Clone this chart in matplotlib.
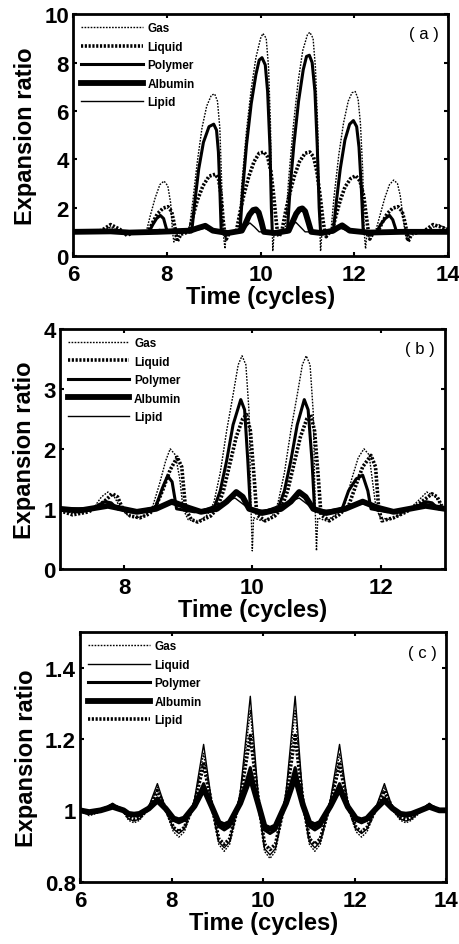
import matplotlib
matplotlib.use("Agg")
import matplotlib.pyplot as plt

plt.rcParams["font.family"] = ["Liberation Sans", "DejaVu Sans"]

# ---------------- panel (a) ----------------
a_gas_t = [6.0, 6.6, 6.8, 7.0, 7.1, 7.3,
           7.56, 7.65, 7.75, 7.85, 7.94, 8.02, 8.08, 8.12, 8.15, 8.2,
           8.47, 8.55, 8.65, 8.75, 8.85, 8.95, 9.02, 9.08, 9.13, 9.17, 9.2, 9.24, 9.27,
           9.53, 9.6, 9.7, 9.8, 9.9, 10.0, 10.05, 10.12, 10.17, 10.21, 10.24, 10.26, 10.29,
           10.52, 10.6, 10.7, 10.8, 10.9, 11.0, 11.05, 11.12, 11.17, 11.22, 11.25, 11.28, 11.31,
           11.5, 11.57, 11.67, 11.77, 11.87, 11.95, 12.02, 12.08, 12.13, 12.18, 12.21, 12.24, 12.27,
           12.45, 12.55, 12.65, 12.75, 12.84, 12.92, 12.98, 13.04, 13.08, 13.11, 13.16,
           13.5, 13.7, 13.8, 14.0]
a_gas_y = [1.0, 1.0, 1.2, 1.0, 0.9, 1.0,
           1.0, 1.7, 2.4, 2.95, 3.1, 2.9, 2.2, 1.0, 0.58, 0.9,
           1.0, 2.2, 3.9, 5.3, 6.2, 6.65, 6.7, 6.4, 5.3, 3.0, 1.0, 0.3, 1.0,
           1.0, 3.0, 5.2, 6.9, 8.2, 9.0, 9.2, 9.0, 7.8, 5.5, 2.0, 0.2, 1.0,
           1.0, 3.2, 5.4, 7.2, 8.5, 9.15, 9.25, 9.0, 7.8, 5.3, 2.0, 0.2, 1.0,
           1.0, 2.5, 4.2, 5.5, 6.4, 6.75, 6.8, 6.5, 5.5, 3.5, 1.0, 0.3, 1.0,
           1.0, 1.7, 2.4, 2.95, 3.14, 3.0, 2.5, 1.6, 1.0, 0.7, 0.95,
           1.0, 1.2, 1.3, 1.1]

a_liq_t = [6.0, 6.6, 6.8, 7.0, 7.15, 7.3,
           7.6, 7.7, 7.8, 7.92, 8.02, 8.1, 8.15, 8.19, 8.22, 8.3,
           8.47, 8.55, 8.65, 8.77, 8.9, 9.03, 9.1, 9.16, 9.2, 9.23, 9.27, 9.33,
           9.48, 9.56, 9.64, 9.75, 9.86, 9.97, 10.07, 10.15, 10.22, 10.28, 10.33, 10.36, 10.39,
           10.45, 10.53, 10.61, 10.72, 10.83, 10.95, 11.05, 11.13, 11.2, 11.27, 11.33, 11.37, 11.4, 11.48,
           11.52, 11.6, 11.7, 11.8, 11.92, 12.03, 12.12, 12.2, 12.26, 12.3, 12.33, 12.4,
           12.5, 12.6, 12.7, 12.82, 12.93, 13.02, 13.08, 13.12, 13.15, 13.22,
           13.5, 13.68, 13.85, 14.0]
a_liq_y = [1.0, 1.05, 1.3, 1.1, 0.85, 1.0,
           1.0, 1.4, 1.75, 1.98, 2.04, 1.85, 1.4, 1.0, 0.6, 0.9,
           1.0, 1.6, 2.3, 2.9, 3.3, 3.38, 3.2, 2.5, 1.5, 1.0, 0.7, 0.95,
           1.0, 1.8, 2.5, 3.3, 3.9, 4.25, 4.3, 4.1, 3.5, 2.5, 1.5, 1.0, 0.8,
           1.0, 1.8, 2.5, 3.3, 3.9, 4.25, 4.3, 4.1, 3.5, 2.5, 1.5, 1.0, 0.8, 1.0,
           1.0, 1.6, 2.3, 2.85, 3.2, 3.32, 3.1, 2.5, 1.6, 1.0, 0.7, 0.95,
           1.0, 1.4, 1.75, 1.98, 2.04, 1.85, 1.4, 1.0, 0.6, 0.9,
           1.05, 1.3, 1.2, 1.1]

a_pol_t = [6.0, 7.62, 7.7, 7.78, 7.86, 7.93, 7.98, 8.01,
           8.53, 8.6, 8.68, 8.78, 8.9, 9.0, 9.06, 9.1, 9.13, 9.16,
           9.56, 9.62, 9.7, 9.8, 9.9, 9.97, 10.03, 10.1, 10.15, 10.2, 10.23, 10.25,
           10.57, 10.63, 10.71, 10.81, 10.91, 10.98, 11.04, 11.1, 11.16, 11.21, 11.25, 11.28,
           11.55, 11.62, 11.7, 11.8, 11.9, 11.98, 12.05, 12.1, 12.15, 12.19,
           12.48, 12.56, 12.66, 12.75, 12.82, 12.87, 12.9, 14.0]
a_pol_y = [1.0, 1.0, 1.3, 1.55, 1.68, 1.55, 1.2, 1.0,
           1.0, 2.3, 3.6, 4.7, 5.35, 5.45, 5.2, 4.3, 2.8, 1.0,
           1.0, 2.8, 4.6, 6.3, 7.5, 8.1, 8.2, 7.9, 6.8, 4.5, 2.0, 1.0,
           1.0, 2.8, 4.6, 6.4, 7.7, 8.25, 8.3, 8.0, 6.8, 4.5, 2.0, 1.0,
           1.0, 2.3, 3.6, 4.8, 5.45, 5.6, 5.35, 4.5, 2.8, 1.0,
           1.0, 1.3, 1.55, 1.68, 1.5, 1.2, 1.0, 1.0]

a_alb_t = [6.0, 6.8, 7.2, 7.8, 8.5, 8.65, 8.82, 8.98, 9.3,
           9.6, 9.68, 9.76, 9.84, 9.9, 9.96, 10.02, 10.07, 10.3,
           10.6, 10.68, 10.76, 10.83, 10.89, 10.95, 11.02, 11.08, 11.3,
           11.55, 11.63, 11.74, 11.9, 12.3, 13.0, 14.0]
a_alb_y = [1.0, 1.02, 0.97, 1.0, 1.05, 1.15, 1.25, 1.05, 0.95,
           1.05, 1.35, 1.7, 1.9, 1.93, 1.8, 1.4, 1.0, 0.95,
           1.05, 1.4, 1.75, 1.93, 1.97, 1.85, 1.4, 1.0, 0.95,
           1.05, 1.15, 1.27, 1.05, 0.97, 1.0, 1.0]

a_lip_t = [6.0, 7.0, 7.7, 7.85, 8.0, 8.6, 8.8, 9.0, 9.5, 9.65, 9.77, 9.87, 9.97,
           10.5, 10.62, 10.75, 10.85, 10.95, 11.5, 11.7, 11.85, 12.0, 14.0]
a_lip_y = [1.0, 1.0, 1.05, 1.1, 1.0, 1.05, 1.15, 1.0, 1.0, 1.15, 1.37, 1.2, 1.0,
           1.0, 1.15, 1.4, 1.2, 1.0, 1.0, 1.15, 1.05, 1.0, 1.0]

# ---------------- panel (b) ----------------
b_gas_t = [7.0, 7.2, 7.4, 7.55, 7.65, 7.75, 7.85, 7.95, 8.05, 8.2, 8.35, 8.45, 8.55, 8.65,
           8.72, 8.8, 8.87, 8.92, 9.0, 9.15, 9.3, 9.4, 9.5, 9.6, 9.7, 9.78, 9.84, 9.9,
           9.95, 9.98, 10.0, 10.02, 10.15, 10.3, 10.4, 10.5, 10.6, 10.7, 10.78, 10.84,
           10.9, 10.95, 10.98, 11.0, 11.02, 11.15, 11.3, 11.45, 11.55, 11.65, 11.74,
           11.82, 11.88, 11.93, 12.0, 12.15, 12.3, 12.45, 12.6, 12.72, 12.85, 12.95, 13.0]
b_gas_y = [0.98, 0.93, 0.97, 1.05, 1.2, 1.28, 1.2, 1.0, 0.9, 0.85, 0.9, 1.05, 1.4, 1.8,
           2.0, 1.9, 1.5, 1.0, 0.82, 0.78, 0.9, 1.1, 1.6, 2.3, 2.9, 3.4, 3.55, 3.4,
           2.6, 1.0, 0.3, 0.85, 0.8, 0.85, 1.1, 1.6, 2.3, 2.9, 3.4, 3.55,
           3.4, 2.6, 1.0, 0.3, 0.85, 0.8, 0.9, 1.1, 1.5, 1.85, 2.0,
           1.9, 1.4, 1.0, 0.85, 0.82, 0.9, 1.0, 1.15, 1.28, 1.2, 1.05, 0.98]

b_liq_t = [7.0, 7.2, 7.45, 7.6, 7.72, 7.82, 7.9, 7.98, 8.1, 8.25, 8.4, 8.5, 8.6, 8.72,
           8.83, 8.9, 8.96, 9.05, 9.15, 9.35, 9.45, 9.55, 9.65, 9.75, 9.85, 9.91, 9.97,
           10.03, 10.07, 10.2, 10.35, 10.45, 10.55, 10.65, 10.75, 10.85, 10.91, 10.97,
           11.03, 11.07, 11.2, 11.35, 11.5, 11.6, 11.72, 11.85, 11.92, 11.97, 12.02,
           12.2, 12.4, 12.55, 12.68, 12.8, 12.88, 12.95, 13.0]
b_liq_y = [0.97, 0.9, 0.95, 1.05, 1.15, 1.25, 1.2, 1.0, 0.88, 0.85, 0.92, 1.05, 1.3, 1.65,
           1.86, 1.7, 1.0, 0.82, 0.78, 0.88, 1.0, 1.3, 1.75, 2.2, 2.5, 2.57, 2.3,
           1.5, 0.9, 0.8, 0.88, 1.0, 1.3, 1.75, 2.2, 2.5, 2.57, 2.3,
           1.5, 0.9, 0.8, 0.9, 1.05, 1.35, 1.7, 1.89, 1.7, 1.0, 0.8,
           0.85, 0.95, 1.05, 1.15, 1.25, 1.2, 1.05, 1.0]

b_pol_t = [7.0, 7.5, 7.7, 7.8, 7.9, 8.1, 8.4, 8.5, 8.6, 8.68, 8.75, 8.82, 9.1, 9.4, 9.5,
           9.6, 9.7, 9.82, 9.88, 9.93, 9.97, 10.1, 10.4, 10.5, 10.6, 10.7, 10.81, 10.87,
           10.93, 10.97, 11.1, 11.4, 11.5, 11.62, 11.72, 11.8, 11.85, 12.1, 12.5, 12.7,
           12.8, 12.9, 13.0]
b_pol_y = [1.0, 1.0, 1.12, 1.1, 1.0, 0.95, 0.97, 1.05, 1.35, 1.55, 1.45, 1.0, 0.95, 1.0, 1.3,
           1.8, 2.4, 2.82, 2.65, 1.8, 1.0, 0.95, 1.0, 1.3, 1.8, 2.4, 2.82, 2.65,
           1.8, 1.0, 0.95, 1.0, 1.3, 1.5, 1.56, 1.3, 1.0, 0.95, 1.0, 1.12,
           1.1, 1.0, 1.0]

b_alb_t = [7.0, 7.3, 7.75, 8.2, 8.5, 8.75, 9.0, 9.2, 9.45, 9.6, 9.75, 9.85, 9.95, 10.15,
           10.45, 10.6, 10.73, 10.83, 10.95, 11.15, 11.45, 11.72, 11.95, 12.2, 12.7, 13.0]
b_alb_y = [1.0, 0.97, 1.05, 0.95, 1.0, 1.12, 1.02, 0.95, 1.0, 1.12, 1.28, 1.2, 1.0, 0.93,
           1.0, 1.12, 1.28, 1.2, 1.0, 0.93, 1.0, 1.12, 1.02, 0.95, 1.05, 1.0]

b_lip_t = [7.0, 7.75, 8.2, 8.72, 9.2, 9.73, 9.95, 10.2, 10.73, 10.95, 11.2, 11.72, 12.2,
           12.75, 13.0]
b_lip_y = [1.0, 1.03, 0.97, 1.08, 0.97, 1.18, 1.0, 0.97, 1.18, 1.0, 0.97, 1.08, 0.97,
           1.03, 1.0]

# ---------------- panel (c) ----------------
c_t = [6.0, 6.2, 6.45, 6.71, 6.95,
       7.06, 7.18, 7.30, 7.50, 7.69, 7.87,
       8.04, 8.16, 8.28, 8.50, 8.70, 8.88,
       9.03, 9.15, 9.27, 9.50, 9.72, 9.90,
       10.03, 10.15, 10.27, 10.50, 10.70, 10.87,
       11.01, 11.13, 11.25, 11.47, 11.67, 11.85,
       12.03, 12.15, 12.27, 12.47, 12.65, 12.83,
       13.0, 13.12, 13.24, 13.44, 13.63, 13.85, 14.0]
c_gas = [1.0, 0.985, 0.995, 1.018, 0.995,
         0.972, 0.965, 0.972, 1.005, 1.065, 1.0,
         0.94, 0.925, 0.94, 1.02, 1.16, 1.01,
         0.905, 0.885, 0.905, 1.04, 1.28, 1.02,
         0.885, 0.865, 0.885, 1.04, 1.28, 1.02,
         0.905, 0.885, 0.905, 1.02, 1.16, 1.01,
         0.94, 0.925, 0.94, 1.005, 1.065, 1.0,
         0.972, 0.965, 0.972, 0.995, 1.018, 0.995, 1.0]
c_liq = [1.0, 0.99, 1.0, 1.02, 1.0,
         0.976, 0.97, 0.976, 1.01, 1.075, 1.005,
         0.948, 0.935, 0.948, 1.03, 1.185, 1.02,
         0.912, 0.895, 0.912, 1.05, 1.32, 1.03,
         0.893, 0.875, 0.893, 1.05, 1.32, 1.03,
         0.912, 0.895, 0.912, 1.03, 1.185, 1.02,
         0.948, 0.935, 0.948, 1.01, 1.075, 1.005,
         0.976, 0.97, 0.976, 1.0, 1.02, 1.0, 1.0]
c_pol = [1.0, 0.995, 1.0, 1.012, 1.0,
         0.988, 0.985, 0.988, 1.005, 1.035, 1.005,
         0.972, 0.965, 0.972, 1.015, 1.075, 1.01,
         0.955, 0.945, 0.955, 1.025, 1.12, 1.015,
         0.945, 0.935, 0.945, 1.025, 1.12, 1.015,
         0.955, 0.945, 0.955, 1.015, 1.075, 1.01,
         0.972, 0.965, 0.972, 1.005, 1.035, 1.005,
         0.988, 0.985, 0.988, 1.0, 1.012, 1.0, 1.0]
c_alb = [1.0, 0.995, 1.0, 1.01, 1.0,
         0.99, 0.988, 0.99, 1.005, 1.028, 1.005,
         0.977, 0.972, 0.977, 1.012, 1.062, 1.01,
         0.965, 0.958, 0.965, 1.02, 1.095, 1.015,
         0.955, 0.948, 0.955, 1.02, 1.095, 1.015,
         0.965, 0.958, 0.965, 1.012, 1.062, 1.01,
         0.977, 0.972, 0.977, 1.005, 1.028, 1.005,
         0.99, 0.988, 0.99, 1.0, 1.01, 1.0, 1.0]
c_lip = [1.0, 0.99, 1.0, 1.015, 1.0,
         0.98, 0.975, 0.98, 1.005, 1.055, 1.005,
         0.952, 0.94, 0.952, 1.02, 1.13, 1.015,
         0.92, 0.905, 0.92, 1.035, 1.21, 1.025,
         0.905, 0.89, 0.905, 1.035, 1.21, 1.025,
         0.92, 0.905, 0.92, 1.02, 1.13, 1.015,
         0.952, 0.94, 0.952, 1.005, 1.055, 1.005,
         0.98, 0.975, 0.98, 1.0, 1.015, 1.0, 1.0]

labels = ["Gas", "Liquid", "Polymer", "Albumin", "Lipid"]

thin_dot = dict(color="black", lw=1.0, ls=(0, (1.2, 1.0)))
thick_dot = dict(color="black", lw=2.6, ls=(0, (0.6, 0.45)))
med_solid = dict(color="black", lw=2.2, ls="-")
thick_solid = dict(color="black", lw=4.2, ls="-")
thin_solid = dict(color="black", lw=1.0, ls="-")

fig = plt.figure(figsize=(4.6, 9.45), dpi=100)


def style_axes(ax, xlim, ylim, xticks, yticks, yticklabels, tag):
    ax.set_xlim(*xlim)
    ax.set_ylim(*ylim)
    ax.set_xticks(xticks)
    ax.set_yticks(yticks)
    ax.set_yticklabels(yticklabels)
    ax.tick_params(direction="in", length=3, width=1.5, top=True, right=True,
                   labelsize=16, pad=3)
    ax.tick_params(axis="x", pad=6)
    for lab in ax.get_xticklabels() + ax.get_yticklabels():
        lab.set_fontweight("bold")
    for sp in ax.spines.values():
        sp.set_linewidth(2.0)
    ax.set_xlabel("Time (cycles)", fontsize=17, fontweight="bold", labelpad=0)
    ax.set_ylabel("Expansion ratio", fontsize=17, fontweight="bold", labelpad=5)
    ax.text(0.975, 0.95, tag, transform=ax.transAxes, ha="right", va="top", fontsize=12)
    leg = ax.legend(loc="upper left", frameon=False, handlelength=5.2,
                    labelspacing=0.55, borderaxespad=0.3, handletextpad=0.4,
                    prop={"weight": "bold", "size": 8.5})
    return leg


# (a)
ax = fig.add_axes([0.159, 0.728, 0.815, 0.256])
ax.plot(a_gas_t, a_gas_y, label=labels[0], **thin_dot)
ax.plot(a_liq_t, a_liq_y, label=labels[1], **thick_dot)
ax.plot(a_pol_t, a_pol_y, label=labels[2], **med_solid)
ax.plot(a_alb_t, a_alb_y, label=labels[3], **thick_solid)
ax.plot(a_lip_t, a_lip_y, label=labels[4], **thin_solid)
style_axes(ax, (6, 14), (0, 10), [6, 8, 10, 12, 14], [0, 2, 4, 6, 8, 10],
           ["0", "2", "4", "6", "8", "10"], "( a )")

# (b)
ax = fig.add_axes([0.130, 0.397, 0.837, 0.254])
ax.plot(b_gas_t, b_gas_y, label=labels[0], **thin_dot)
ax.plot(b_liq_t, b_liq_y, label=labels[1], **thick_dot)
ax.plot(b_pol_t, b_pol_y, label=labels[2], **med_solid)
ax.plot(b_alb_t, b_alb_y, label=labels[3], **thick_solid)
ax.plot(b_lip_t, b_lip_y, label=labels[4], **thin_solid)
style_axes(ax, (7, 13), (0, 4), [8, 10, 12], [0, 1, 2, 3, 4],
           ["0", "1", "2", "3", "4"], "( b )")

# (c)
ax = fig.add_axes([0.174, 0.066, 0.796, 0.264])
ax.plot(c_t, c_gas, label=labels[0], **thin_dot)
ax.plot(c_t, c_liq, label=labels[1], **thin_solid)
ax.plot(c_t, c_pol, label=labels[2], **med_solid)
ax.plot(c_t, c_alb, label=labels[3], **thick_solid)
ax.plot(c_t, c_lip, label=labels[4], **thick_dot)
style_axes(ax, (6, 14), (0.8, 1.5), [6, 8, 10, 12, 14], [0.8, 1.0, 1.2, 1.4],
           ["0.8", "1", "1.2", "1.4"], "( c )")

fig.savefig("out.png", dpi=100)
